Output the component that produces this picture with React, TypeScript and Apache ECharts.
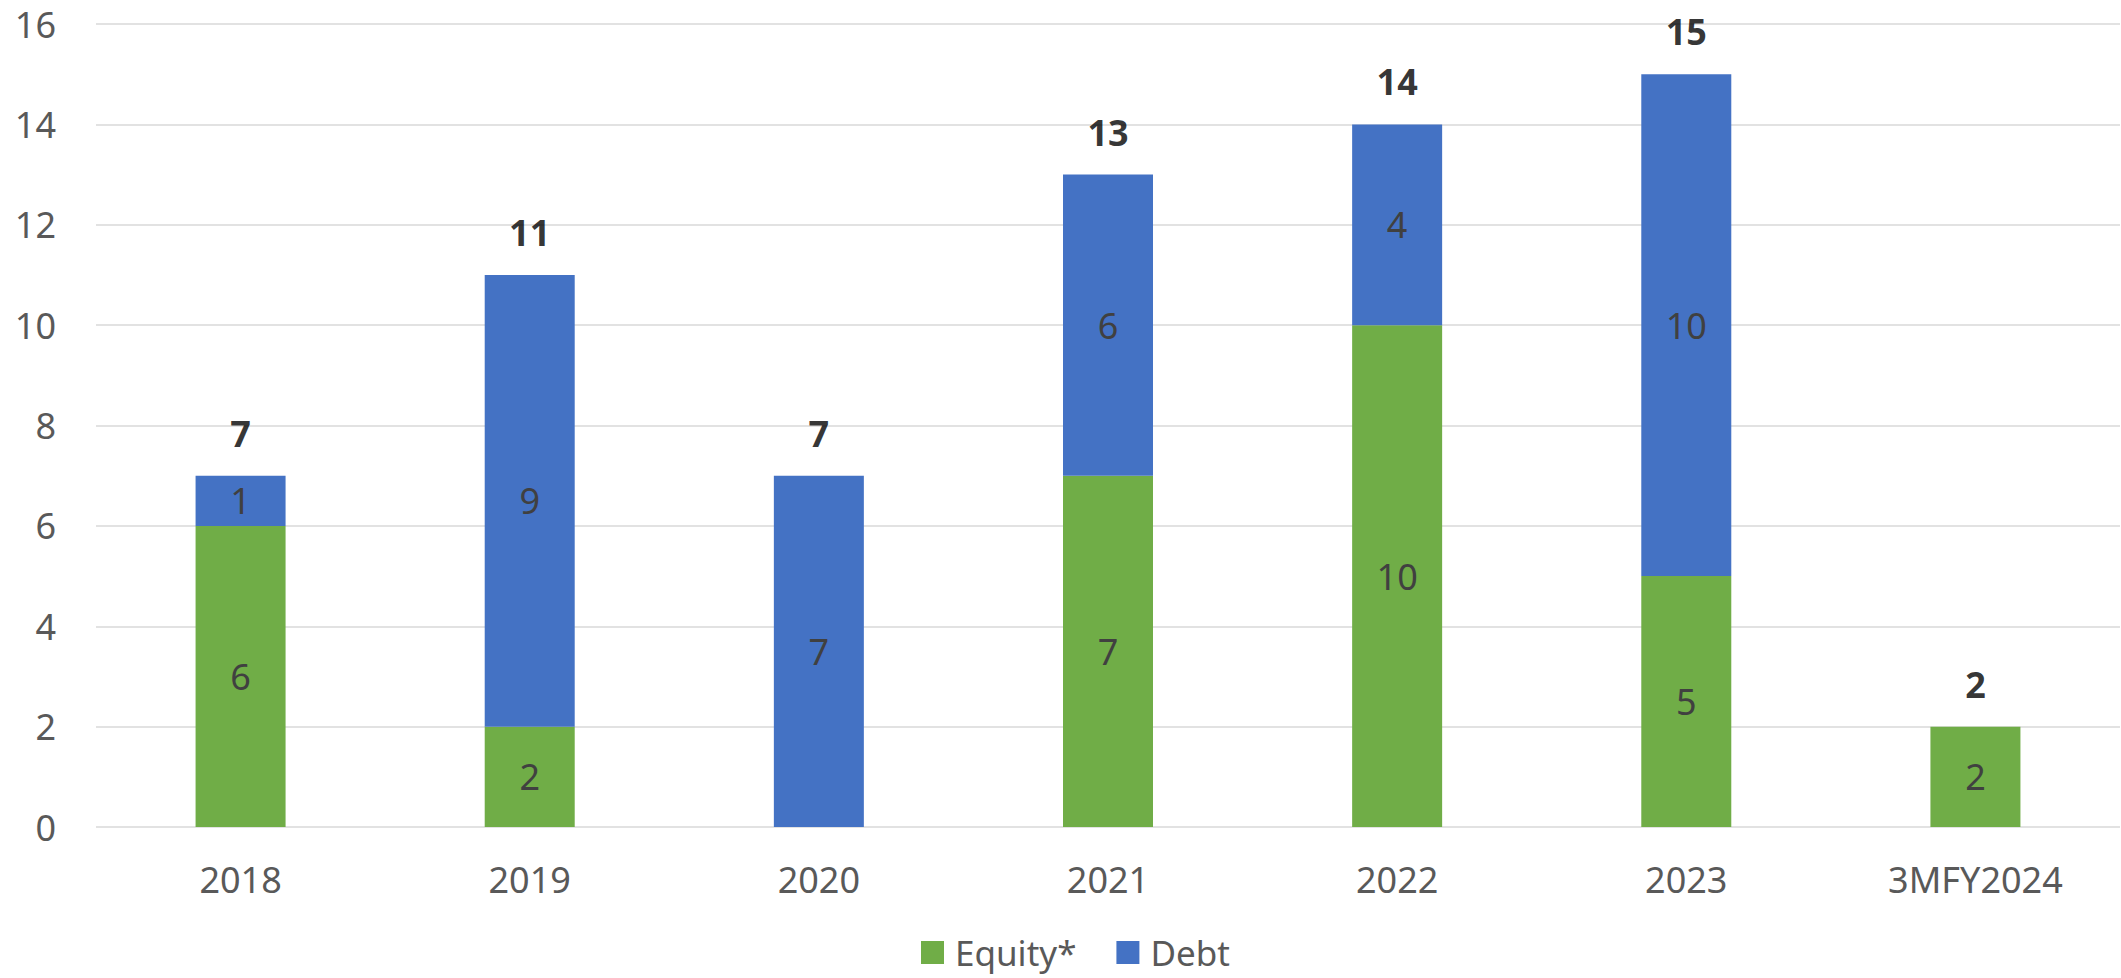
import React, { useEffect, useRef } from "react";
import * as echarts from "echarts";

const categories = ["2018", "2019", "2020", "2021", "2022", "2023", "3MFY2024"];
const equity = [6, 2, 0, 7, 10, 5, 2];
const debt = [1, 9, 7, 6, 4, 10, 0];
const totals = [7, 11, 7, 13, 14, 15, 2];

const FONT = "'Noto Sans', 'Open Sans', sans-serif";

export default function App() {
  const ref = useRef<HTMLDivElement>(null);
  useEffect(() => {
    document.body.style.margin = "0";
    const chart = echarts.init(ref.current!, null, { renderer: "svg" });
    const inner = {
      show: true,
      position: "inside",
      color: "#404040",
      fontSize: 36,
      fontFamily: FONT,
      formatter: (p: any) => (p.value ? String(p.value) : ""),
    };
    chart.setOption({
      animation: false,
      backgroundColor: "#ffffff",
      textStyle: { fontFamily: FONT },
      grid: { left: 96, right: 1, top: 24, bottom: 151, containLabel: false },
      legend: {
        data: ["Equity*", "Debt"],
        left: 921,
        top: 935,
        icon: "rect",
        itemWidth: 23,
        itemHeight: 23,
        itemGap: 40,
        padding: 0,
        textStyle: {
          fontSize: 35,
          lineHeight: 35,
          color: "#595959",
          fontFamily: FONT,
          padding: [0, 0, 0, 6],
        },
      },
      xAxis: {
        type: "category",
        data: categories,
        axisLine: { show: false },
        axisTick: { show: false },
        axisLabel: { color: "#595959", fontSize: 36, fontFamily: FONT, margin: 34 },
      },
      yAxis: {
        type: "value",
        min: 0,
        max: 16,
        interval: 2,
        axisLine: { show: false },
        axisTick: { show: false },
        axisLabel: { color: "#595959", fontSize: 36, fontFamily: FONT, margin: 40 },
        splitLine: { lineStyle: { color: "#d9d9d9", width: 1.5 } },
      },
      series: [
        {
          name: "Equity*",
          type: "bar",
          stack: "total",
          data: equity,
          barWidth: 90,
          itemStyle: { color: "#70AD47" },
          label: inner,
        },
        {
          name: "Debt",
          type: "bar",
          stack: "total",
          data: debt,
          barWidth: 90,
          itemStyle: { color: "#4472C4" },
          label: inner,
        },
        {
          name: "Total",
          type: "scatter",
          data: totals,
          symbol: "rect",
          symbolSize: 1,
          itemStyle: { color: "rgba(0,0,0,0)" },
          label: {
            show: true,
            position: "top",
            distance: 24,
            color: "#000000",
            fontWeight: "bold",
            fontSize: 36,
            fontFamily: FONT,
          },
          z: 5,
        },
      ],
    });
    return () => chart.dispose();
  }, []);
  return <div ref={ref} style={{ width: 2121, height: 978 }} />;
}
